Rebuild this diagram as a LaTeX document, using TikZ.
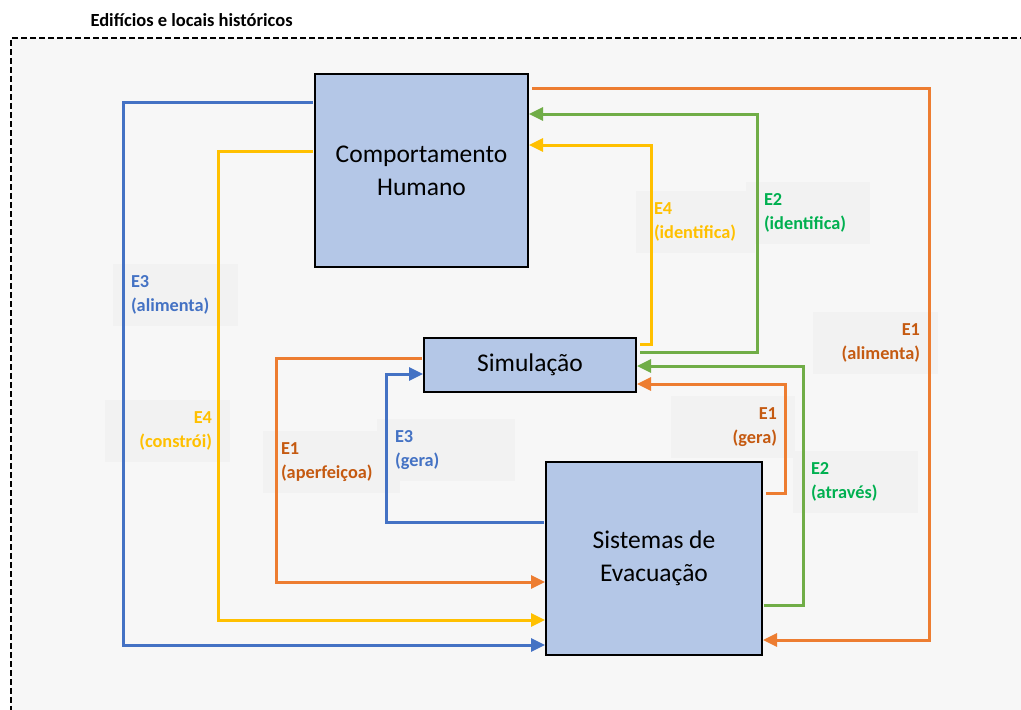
\documentclass[tikz,border=0pt]{standalone}
\usepackage{fontspec}
\setmainfont{Carlito}
\usetikzlibrary{arrows.meta}
\definecolor{cblue}{HTML}{4472C4}
\definecolor{corange}{HTML}{ED7D31}
\definecolor{corangetxt}{HTML}{C55A11}
\definecolor{cyellow}{HTML}{FFC000}
\definecolor{cgreen}{HTML}{70AD47}
\definecolor{cgreentxt}{HTML}{00B050}
\definecolor{boxfill}{HTML}{B4C7E7}
\definecolor{framebg}{HTML}{F7F7F7}
\definecolor{lblbg}{HTML}{F2F2F2}
\tikzset{
  conceptbox/.style={draw=black, line width=2pt, fill=boxfill, align=center,
    font=\fontsize{25.5}{33}\selectfont, inner sep=0pt},
  lbl/.style={fill=lblbg, inner xsep=18pt, inner ysep=0pt, minimum height=62pt,
    font=\bfseries\fontsize{18.3}{24}\selectfont},
  conn/.style={line width=3pt},
  arr/.style={conn, -{Triangle[length=14pt,width=13pt]}},
}
\begin{document}
\begin{tikzpicture}[x=1pt,y=-1pt]
\useasboundingbox (0,0) rectangle (1021,710);
% frame
\fill[framebg] (11,38) rectangle (1021,710);
\draw[line width=1.5pt, dash pattern=on 6pt off 3pt] (11,712) -- (11,38) -- (1023,38);
\node[anchor=base west, font=\bfseries\fontsize{18.5}{22}\selectfont] (title) at (87,26) {Edifícios e locais históricos};
% labels
\node[lbl, text width=89pt, align=left, text=cblue] (l1) at (175.5,295) {E3\\(alimenta)};
\node[lbl, text width=89pt, align=right, text=cyellow] (l2) at (167.5,431) {E4\\(constrói)};
\node[lbl, text width=101pt, align=left, text=corangetxt] (l3) at (331.5,462) {E1\\(aperfeiçoa)};
\node[lbl, text width=102pt, align=left, text=cblue] (l4) at (446,450) {E3\\(gera)};
\node[lbl, text width=83pt, align=left, text=cyellow] (l5) at (695.5,222) {E4\\(identifica)};
\node[lbl, text width=88pt, align=left, text=cgreentxt] (l6) at (808,213) {E2\\(identifica)};
\node[lbl, text width=89pt, align=right, text=corangetxt] (l7) at (875.5,343) {E1\\(alimenta)};
\node[lbl, text width=88pt, align=right, text=corangetxt] (l8) at (733,427) {E1\\(gera)};
\node[lbl, text width=89pt, align=left, text=cgreentxt] (l9) at (855.5,482) {E2\\(através)};
% boxes
\node[conceptbox, minimum width=213pt, minimum height=193pt] (CH) at (421.5,170.5) {Comportamento\\Humano};
\node[conceptbox, minimum width=212pt, minimum height=54pt] (SIM) at (530,365) {Simulação};
\node[conceptbox, minimum width=216pt, minimum height=193pt] (SE) at (654,558.5) {Sistemas de\\Evacuação};
% connectors
\draw[arr, cblue] ([xshift=-1pt]CH.west |- 0,102) -| (123,645) -- (SE.west |- 0,645);
\draw[arr, cyellow] ([xshift=-1pt]CH.west |- 0,151) -| (218,620) -- (SE.west |- 0,620);
\draw[arr, corange] ([xshift=-1pt]SIM.west |- 0,358) -| (276,582) -- (SE.west |- 0,582);
\draw[arr, cblue] ([xshift=-1pt]SE.west |- 0,522) -| (386,374) -- (SIM.west |- 0,374);
\draw[arr, cyellow] ([xshift=3pt]SIM.east |- 0,344) -| (651,145) -- (CH.east |- 0,145);
\draw[arr, cgreen] ([xshift=3pt]SIM.east |- 0,352) -| (757,114) -- (CH.east |- 0,114);
\draw[arr, cgreen] ([xshift=1pt]SE.east |- 0,605) -| (803,366) -- (SIM.east |- 0,366);
\draw[arr, corange] ([xshift=3pt]SE.east |- 0,493) -| (785,384) -- (SIM.east |- 0,384);
\draw[arr, corange] ([xshift=3pt]CH.east |- 0,88) -| (929,640) -- (SE.east |- 0,640);
\end{tikzpicture}
\end{document}
